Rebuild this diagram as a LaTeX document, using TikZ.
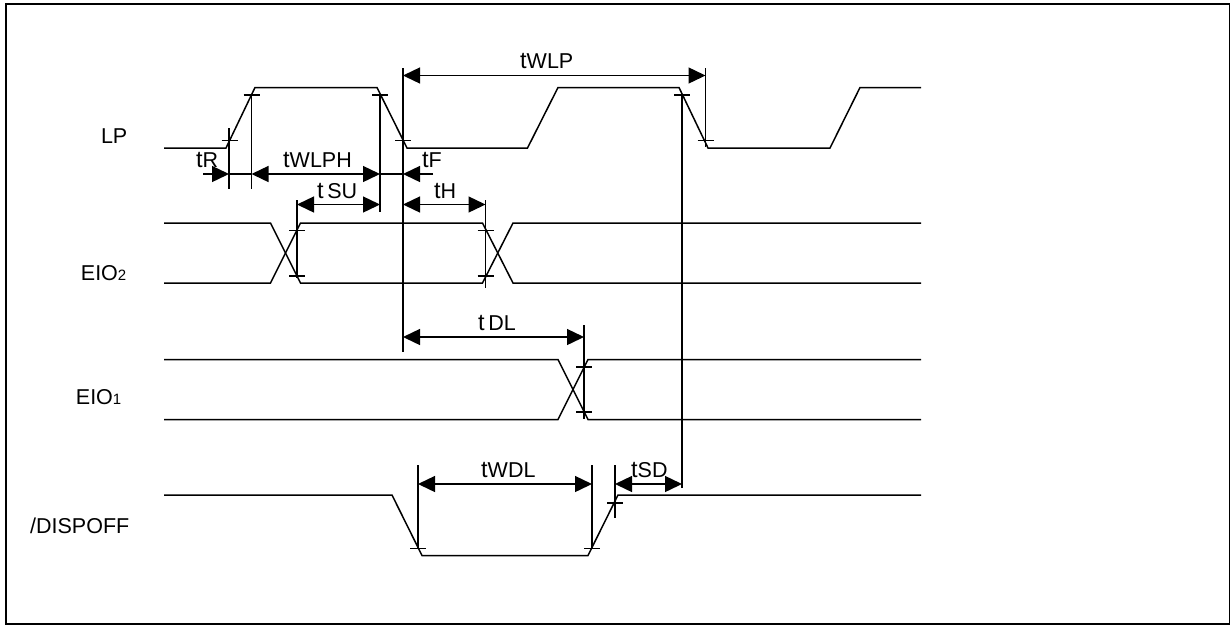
\documentclass[tikz,border=0pt]{standalone}
\usepackage{fontspec}
\setmainfont{Liberation Sans}
\usetikzlibrary{arrows.meta}
\tikzset{
  x=1pt,y=-1pt,
  wave/.style={line width=1.5pt,line join=miter},
  guide/.style={line width=1.4pt},
  dim/.style={line width=1.4pt,{Triangle[length=17pt,width=16pt]}-{Triangle[length=17pt,width=16pt]}},
  tipr/.style={line width=1.4pt,-{Triangle[length=17pt,width=16pt]}},
  sig/.style={inner sep=0pt,anchor=base east,font=\fontsize{21.5}{24}\selectfont},
  tim/.style={inner sep=0pt,anchor=base west,font=\fontsize{21.5}{24}\selectfont},
}
\newcommand{\tl}[1]{{\fontsize{23.5}{24}\selectfont t}#1}
\newcommand{\tick}[2]{\draw[guide] (#1-8,#2) -- (#1+8,#2);}
\begin{document}
\begin{tikzpicture}
\useasboundingbox (0,0) rectangle (1231,625);
\draw[line width=1.9pt] (6,4) rectangle (1229.5,624);
% signal labels
\node[sig] (lLP) at (127.5,143) {LP};
\node[sig] (lE2) at (126.5,280) {EIO{\fontsize{15}{15}\selectfont 2}};
\node[sig] (lE1) at (121.5,404) {EIO{\fontsize{15}{15}\selectfont 1}};
\node[sig] (lD) at (129.5,533) {/DISPOFF};
% waveforms
\draw[wave] (164,148) -- (226,148) -- (255,87.5) -- (377,87.5) -- (407,148) -- (527.5,148) -- (558,87.5) -- (679,87.5) -- (708,148) -- (830,148) -- (860,87.5) -- (921,87.5);
\draw[wave] (164,223) -- (270.5,223) -- (300.5,283) -- (482.5,283) -- (513,223) -- (921,223);
\draw[wave] (164,283) -- (270.5,283) -- (300.5,223) -- (482.5,223) -- (513,283) -- (921,283);
\draw[wave] (164,359.5) -- (558,359.5) -- (588,419.5) -- (921,419.5);
\draw[wave] (164,419.5) -- (558,419.5) -- (588,359.5) -- (921,359.5);
\draw[wave] (164,495) -- (392,495) -- (422,555.5) -- (588,555.5) -- (618,495) -- (921,495);
% ticks
\tick{229.5}{140.5}\tick{251.5}{95}\tick{380}{95}\tick{403}{140.5}
\tick{705.5}{140.5}\tick{682}{95}
\tick{297}{230.5}\tick{297}{276}\tick{485.5}{230.5}\tick{485.5}{276}
\tick{584}{367}\tick{584}{412}
\tick{418}{548.5}\tick{592}{548.5}\tick{615}{503}
% guides
\coordinate (vRt) at (229,128); \coordinate (vRb) at (229,189);
\coordinate (vWt) at (251.5,95); \coordinate (vWb) at (251.5,189);
\coordinate (vFt) at (380,95); \coordinate (vFb) at (380,212);
\coordinate (vLt) at (403,68); \coordinate (vLb) at (403,352);
\coordinate (vPt) at (705.5,68); \coordinate (vPb) at (705.5,147);
\coordinate (vSt) at (297,200); \coordinate (vSb) at (297,278);
\coordinate (vHt) at (485.5,200); \coordinate (vHb) at (485.5,288);
\coordinate (vDt) at (584,325); \coordinate (vDb) at (584,419);
\coordinate (vAt) at (418,465); \coordinate (vAb) at (418,549);
\coordinate (vBt) at (592,465); \coordinate (vBb) at (592,549);
\coordinate (vCt) at (615,465); \coordinate (vCb) at (615,518);
\coordinate (vEt) at (682,95); \coordinate (vEb) at (682,488);
\foreach \v in {R,W,F,L,P,S,H,D,A,B,C,E}{\draw[guide] (v\v t) -- (v\v b);}
% dimensions
\coordinate (tRs) at (203,174);
\coordinate (tRe) at (229,174);
\coordinate (tWs) at (251.5,174);
\coordinate (tWe) at (380,174);
\coordinate (tFe) at (403,174);
\coordinate (tFs) at (433,174);
\draw[tipr] (tRs) -- (tRe);
\draw[guide] (tRe) -- (tWs);
\draw[dim] (tWs) -- (tWe);
\draw[guide] (tWe) -- (tFe);
\draw[tipr] (tFs) -- (tFe);
\coordinate (a1) at (297,204.5); \coordinate (a2) at (380,204.5);
\draw[dim] (a1) -- (a2);
\coordinate (a3) at (403,204.5); \coordinate (a4) at (485.5,204.5);
\draw[dim] (a3) -- (a4);
\coordinate (a5) at (403,75.5); \coordinate (a6) at (705.5,75.5);
\draw[dim] (a5) -- (a6);
\coordinate (a7) at (403,337); \coordinate (a8) at (584,337);
\draw[dim] (a7) -- (a8);
\coordinate (a9) at (418,484); \coordinate (a10) at (592,484);
\draw[dim] (a9) -- (a10);
\coordinate (a11) at (615,484); \coordinate (a12) at (682,484);
\draw[dim] (a11) -- (a12);
% timing labels
\node[tim] (nR) at (196,167) {\tl{R}};
\node[tim] (nWLPH) at (283,167) {\tl{WLPH}};
\node[tim] (nF) at (422,167) {\tl{F}};
\node[tim] (nSU) at (317,198) {\tl{\,SU}};
\node[tim] (nH) at (434,198) {\tl{H}};
\node[tim] (nWLP) at (520,68) {\tl{WLP}};
\node[tim] (nDL) at (478,330) {\tl{\,DL}};
\node[tim] (nWDL) at (481,477) {\tl{WDL}};
\node[tim] (nSD) at (631,477) {\tl{SD}};
\end{tikzpicture}
\end{document}
